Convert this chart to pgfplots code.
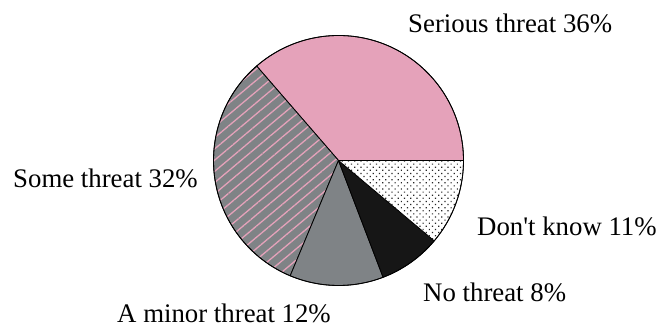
\documentclass[border=0pt]{standalone}
\usepackage{pgfplots}
\pgfplotsset{compat=1.18}
\usepackage{pgfplotstable}
\usetikzlibrary{patterns.meta}
\usepackage{fontspec}
\setmainfont{Liberation Serif}

\definecolor{threatpink}{RGB}{229,162,186}
\definecolor{threatgray}{RGB}{127,131,134}
\definecolor{threatblack}{RGB}{22,22,22}

% Share of respondents (percent) for each answer, in drawing order
\pgfplotstableread[col sep=comma]{
share
36
32
12
8
11
}\shares

\tikzset{
  slice/.style={draw=black, line width=0.8pt, line join=round},
  lbl/.style={font=\fontsize{26.8pt}{30pt}\selectfont, inner sep=0pt, anchor=base west},
}

\begin{document}
\begin{tikzpicture}
\pgfplotstablegetelem{0}{share}\of\shares \let\sA\pgfplotsretval
\pgfplotstablegetelem{1}{share}\of\shares \let\sB\pgfplotsretval
\pgfplotstablegetelem{2}{share}\of\shares \let\sC\pgfplotsretval
\pgfplotstablegetelem{3}{share}\of\shares \let\sD\pgfplotsretval
\pgfplotstablegetelem{4}{share}\of\shares \let\sE\pgfplotsretval
\pgfmathsetmacro\tot{\sA+\sB+\sC+\sD+\sE}
% cumulative boundary angles, counter-clockwise from 3 o'clock
\pgfmathsetmacro\aA{\sA/\tot*360}
\pgfmathsetmacro\aB{\aA+\sB/\tot*360}
\pgfmathsetmacro\aC{\aB+\sC/\tot*360}
\pgfmathsetmacro\aD{\aC+\sD/\tot*360}
\def\R{125pt}
\begin{axis}[
  hide axis, scale only axis,
  width=662pt, height=329pt,
  xmin=0, xmax=662, ymin=0, ymax=329,
  clip=false,
]
\path (axis cs:0,0) rectangle (axis cs:662,329);
% Serious threat
\filldraw[slice, fill=threatpink] (axis cs:338.5,168.5) -- ++(0:\R)
  arc[start angle=0, end angle=\aA, radius=\R] -- cycle;
% Some threat: grey with pink hatching
\filldraw[slice, preaction={fill=threatgray},
  pattern={Lines[angle=40, distance=8.6pt, line width=1.3pt]}, pattern color=threatpink]
  (axis cs:338.5,168.5) -- ++(\aA:\R)
  arc[start angle=\aA, end angle=\aB, radius=\R] -- cycle;
% A minor threat
\filldraw[slice, fill=threatgray] (axis cs:338.5,168.5) -- ++(\aB:\R)
  arc[start angle=\aB, end angle=\aC, radius=\R] -- cycle;
% No threat
\filldraw[slice, fill=threatblack] (axis cs:338.5,168.5) -- ++(\aC:\R)
  arc[start angle=\aC, end angle=\aD, radius=\R] -- cycle;
% Don't know: dotted
\filldraw[slice, preaction={fill=white},
  pattern={Dots[angle=45, distance=4.4pt, radius=0.85pt]}, pattern color=black!85]
  (axis cs:338.5,168.5) -- ++(\aD:\R)
  arc[start angle=\aD, end angle=360, radius=\R] -- cycle;
\draw[slice] (axis cs:338.5,168.5) circle[radius=\R];

\node[lbl] at (axis cs:408,296) {Serious threat \sA\%};
\node[lbl] at (axis cs:13,141) {Some threat \sB\%};
\node[lbl] at (axis cs:117,6) {A minor threat \sC\%};
\node[lbl] at (axis cs:423,27) {No threat \sD\%};
\node[lbl] at (axis cs:477,93) {Don\textquotesingle t know \sE\%};
\end{axis}
\end{tikzpicture}
\end{document}
